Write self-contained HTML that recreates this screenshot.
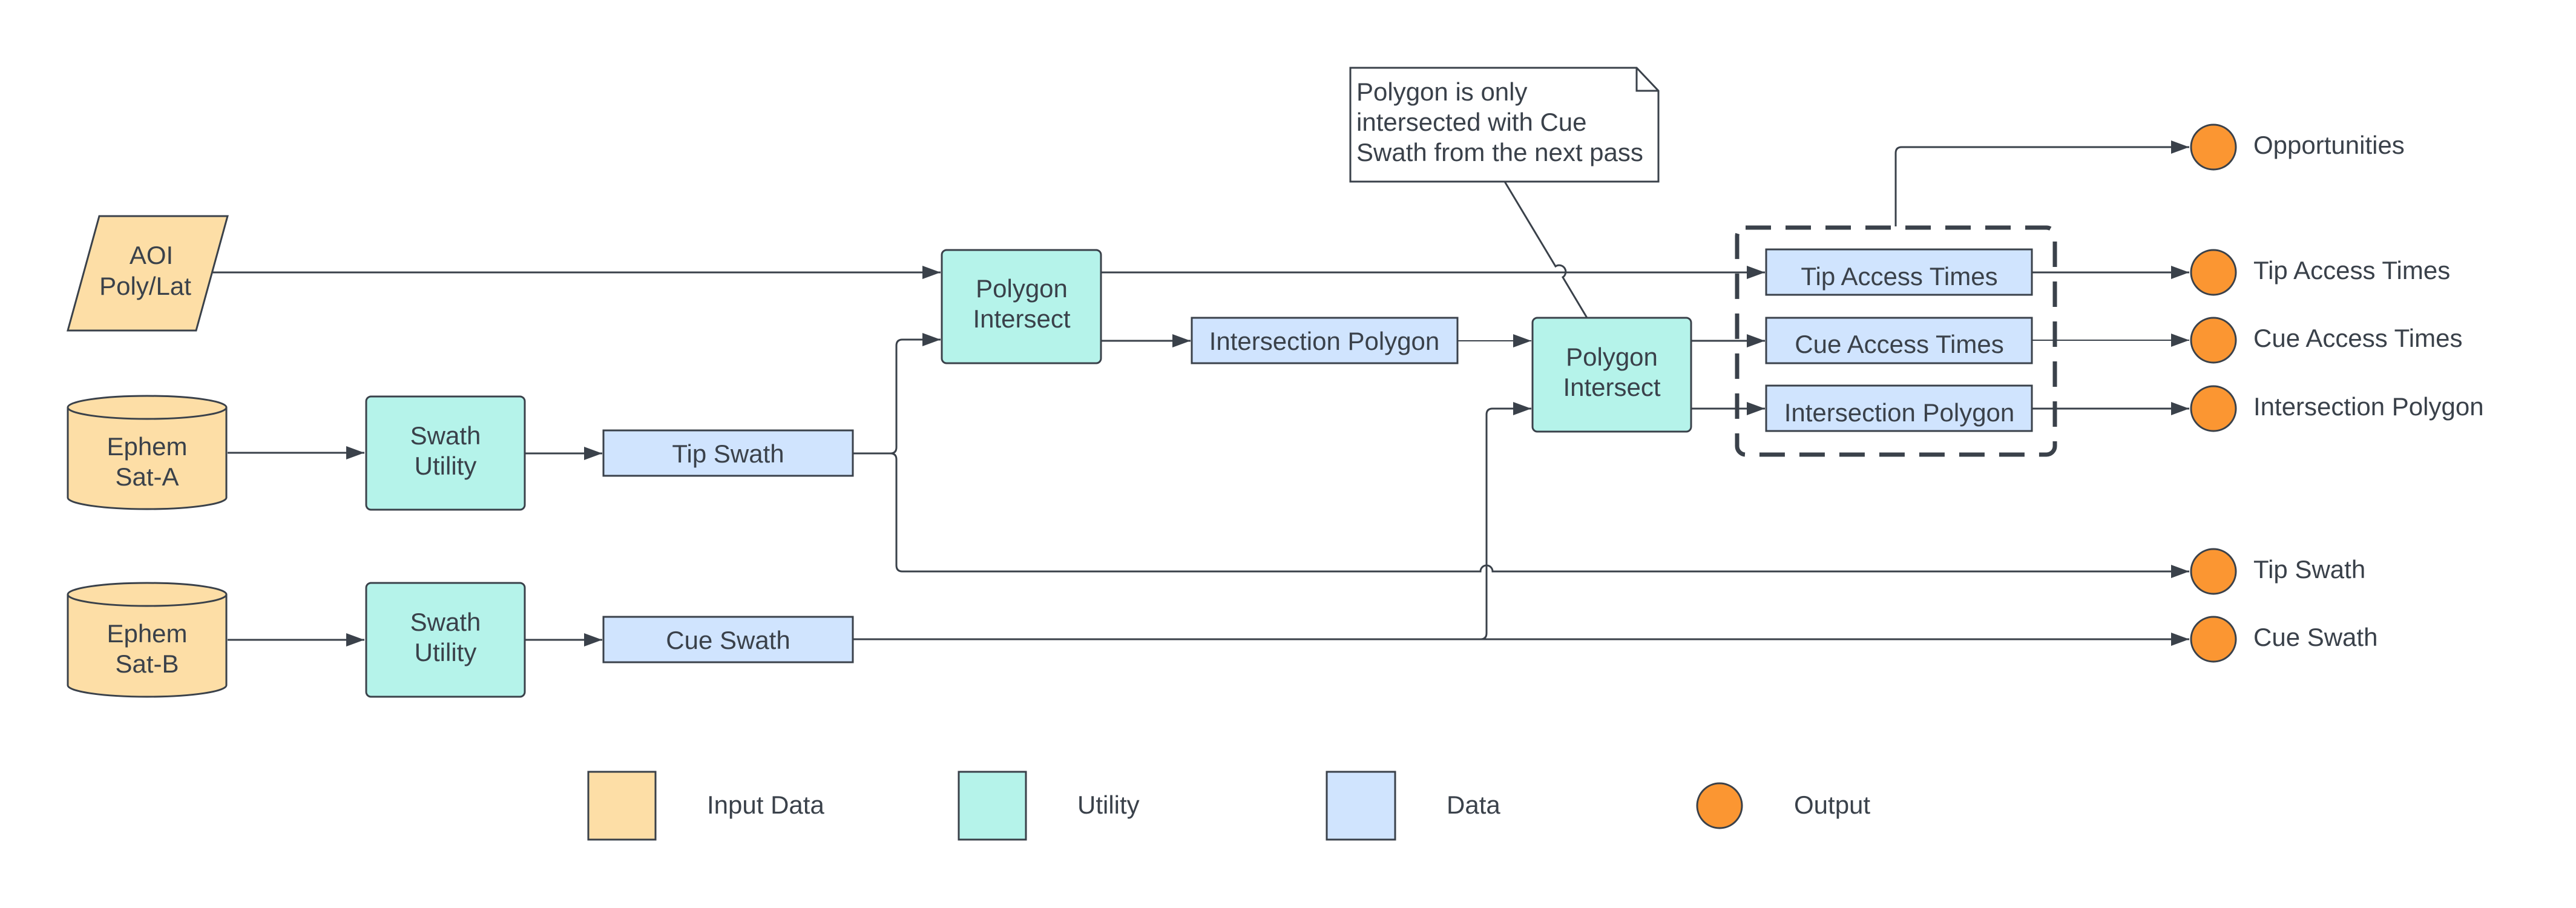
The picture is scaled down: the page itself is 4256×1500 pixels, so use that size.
<!DOCTYPE html>
<html><head><meta charset="utf-8"><style>
html,body{margin:0;padding:0;background:#fff;}
svg{display:block;}
text{font-family:"Liberation Sans",sans-serif;fill:#3a414a;font-size:42px;}
</style></head><body>
<svg width="4256" height="1500" viewBox="0 0 4256 1500" xmlns="http://www.w3.org/2000/svg">
<defs>
<marker id="a" markerWidth="30" markerHeight="22" refX="30" refY="11" orient="auto" markerUnits="userSpaceOnUse">
<path d="M0,0 L30,11 L0,22 Z" fill="#3a414a"/></marker>
</defs>
<g stroke="#3a414a" stroke-width="3" fill="none">
<path d="M350,450 H1554" marker-end="url(#a)"/>
<path d="M376,748 H602" marker-end="url(#a)"/>
<path d="M867,749 H995" marker-end="url(#a)"/>
<path d="M376,1057 H602" marker-end="url(#a)"/>
<path d="M867,1057 H995" marker-end="url(#a)"/>
<path d="M1409,749 H1471 Q1481,749 1481,739 V571 Q1481,561 1491,561 H1554" marker-end="url(#a)"/>
<path d="M1471,749 Q1481,749 1481,759 V934 Q1481,944 1491,944 H2446 A10,10 0 0 1 2466,944 H3617" marker-end="url(#a)"/>
<path d="M1409,1056 H2446 Q2456,1056 2456,1046 V685 Q2456,675 2466,675 H2530" marker-end="url(#a)"/>
<path d="M1409,1056 H3617" marker-end="url(#a)"/>
<path d="M1819,450 H2916" marker-end="url(#a)"/>
<path d="M1819,563 H1967" marker-end="url(#a)"/>
<path d="M2408,563 H2530" stroke-width="2" marker-end="url(#a)"/>
<path d="M2794,563 H2916" marker-end="url(#a)"/>
<path d="M2794,675 H2916" marker-end="url(#a)"/>
<path d="M3357,450 H3617" marker-end="url(#a)"/>
<path d="M3357,562 H3617" stroke-width="2" marker-end="url(#a)"/>
<path d="M3357,675 H3617" marker-end="url(#a)"/>
<path d="M3132,374 V253 Q3132,243 3142,243 H3617" marker-end="url(#a)"/>
<path d="M2486,300 L2570,440 A10,10 0 0 1 2582,458 L2622,525"/>
</g>
<rect x="2870" y="376" width="525" height="375" rx="14" fill="none" stroke="#3a414a" stroke-width="7" stroke-dasharray="42,24"/>
<g stroke="#3a414a" stroke-width="3">
<polygon points="164,357 376,357 324,546 112,546" fill="#fddea6"/>
<path d="M112,673 V822 A131,19 0 0 0 374,822 V673" fill="#fddea6"/>
<ellipse cx="243" cy="673" rx="131" ry="19" fill="#fddea6"/>
<path d="M112,982 V1132 A131,19 0 0 0 374,1132 V982" fill="#fddea6"/>
<ellipse cx="243" cy="982" rx="131" ry="19" fill="#fddea6"/>
<rect x="605" y="655" width="262" height="187" rx="8" fill="#b5f3ea"/>
<rect x="605" y="963" width="262" height="188" rx="8" fill="#b5f3ea"/>
<rect x="1556" y="413" width="263" height="187" rx="8" fill="#b5f3ea"/>
<rect x="2532" y="525" width="262" height="188" rx="8" fill="#b5f3ea"/>
<rect x="997" y="711" width="412" height="75" fill="#d0e4fe"/>
<rect x="997" y="1019" width="412" height="75" fill="#d0e4fe"/>
<rect x="1969" y="525" width="439" height="75" fill="#d0e4fe"/>
<rect x="2918" y="412" width="439" height="75" fill="#d0e4fe"/>
<rect x="2918" y="525" width="439" height="75" fill="#d0e4fe"/>
<rect x="2918" y="637" width="439" height="75" fill="#d0e4fe"/>
<path d="M2231,112 H2704 L2740,150 V300 H2231 Z" fill="#fff"/>
<path d="M2704,112 V150 H2740" fill="none"/>
<g fill="#fb9632">
<circle cx="3657" cy="243" r="37"/>
<circle cx="3657" cy="450" r="37"/>
<circle cx="3657" cy="562" r="37"/>
<circle cx="3657" cy="675" r="37"/>
<circle cx="3657" cy="944" r="37"/>
<circle cx="3657" cy="1056" r="37"/>
</g>
<rect x="972" y="1275" width="111" height="112" fill="#fddea6"/>
<rect x="1584" y="1275" width="111" height="112" fill="#b5f3ea"/>
<rect x="2192" y="1275" width="113" height="112" fill="#d0e4fe"/>
<circle cx="2841" cy="1331" r="37" fill="#fb9632"/>
</g>
<g text-anchor="middle">
<text x="250" y="436">AOI</text><text x="240" y="487">Poly/Lat</text>
<text x="243" y="752">Ephem</text><text x="243" y="802">Sat-A</text>
<text x="243" y="1061">Ephem</text><text x="243" y="1111">Sat-B</text>
<text x="736" y="734">Swath</text><text x="736" y="784">Utility</text>
<text x="736" y="1042">Swath</text><text x="736" y="1092">Utility</text>
<text x="1203" y="764">Tip Swath</text>
<text x="1203" y="1072">Cue Swath</text>
<text x="1688" y="491">Polygon</text><text x="1688" y="541">Intersect</text>
<text x="2188" y="578">Intersection Polygon</text>
<text x="2663" y="604">Polygon</text><text x="2663" y="654">Intersect</text>
<text x="3138" y="471">Tip Access Times</text>
<text x="3138" y="583">Cue Access Times</text>
<text x="3138" y="696">Intersection Polygon</text>
</g>
<text x="2241" y="166">Polygon is only</text>
<text x="2241" y="216">intersected with Cue</text>
<text x="2241" y="266">Swath from the next pass</text>
<text x="3723" y="254">Opportunities</text>
<text x="3723" y="461">Tip Access Times</text>
<text x="3723" y="573">Cue Access Times</text>
<text x="3723" y="686">Intersection Polygon</text>
<text x="3723" y="955">Tip Swath</text>
<text x="3723" y="1067">Cue Swath</text>
<text x="1168" y="1344">Input Data</text>
<text x="1780" y="1344">Utility</text>
<text x="2390" y="1344">Data</text>
<text x="2964" y="1344">Output</text>
</svg>
</body></html>
